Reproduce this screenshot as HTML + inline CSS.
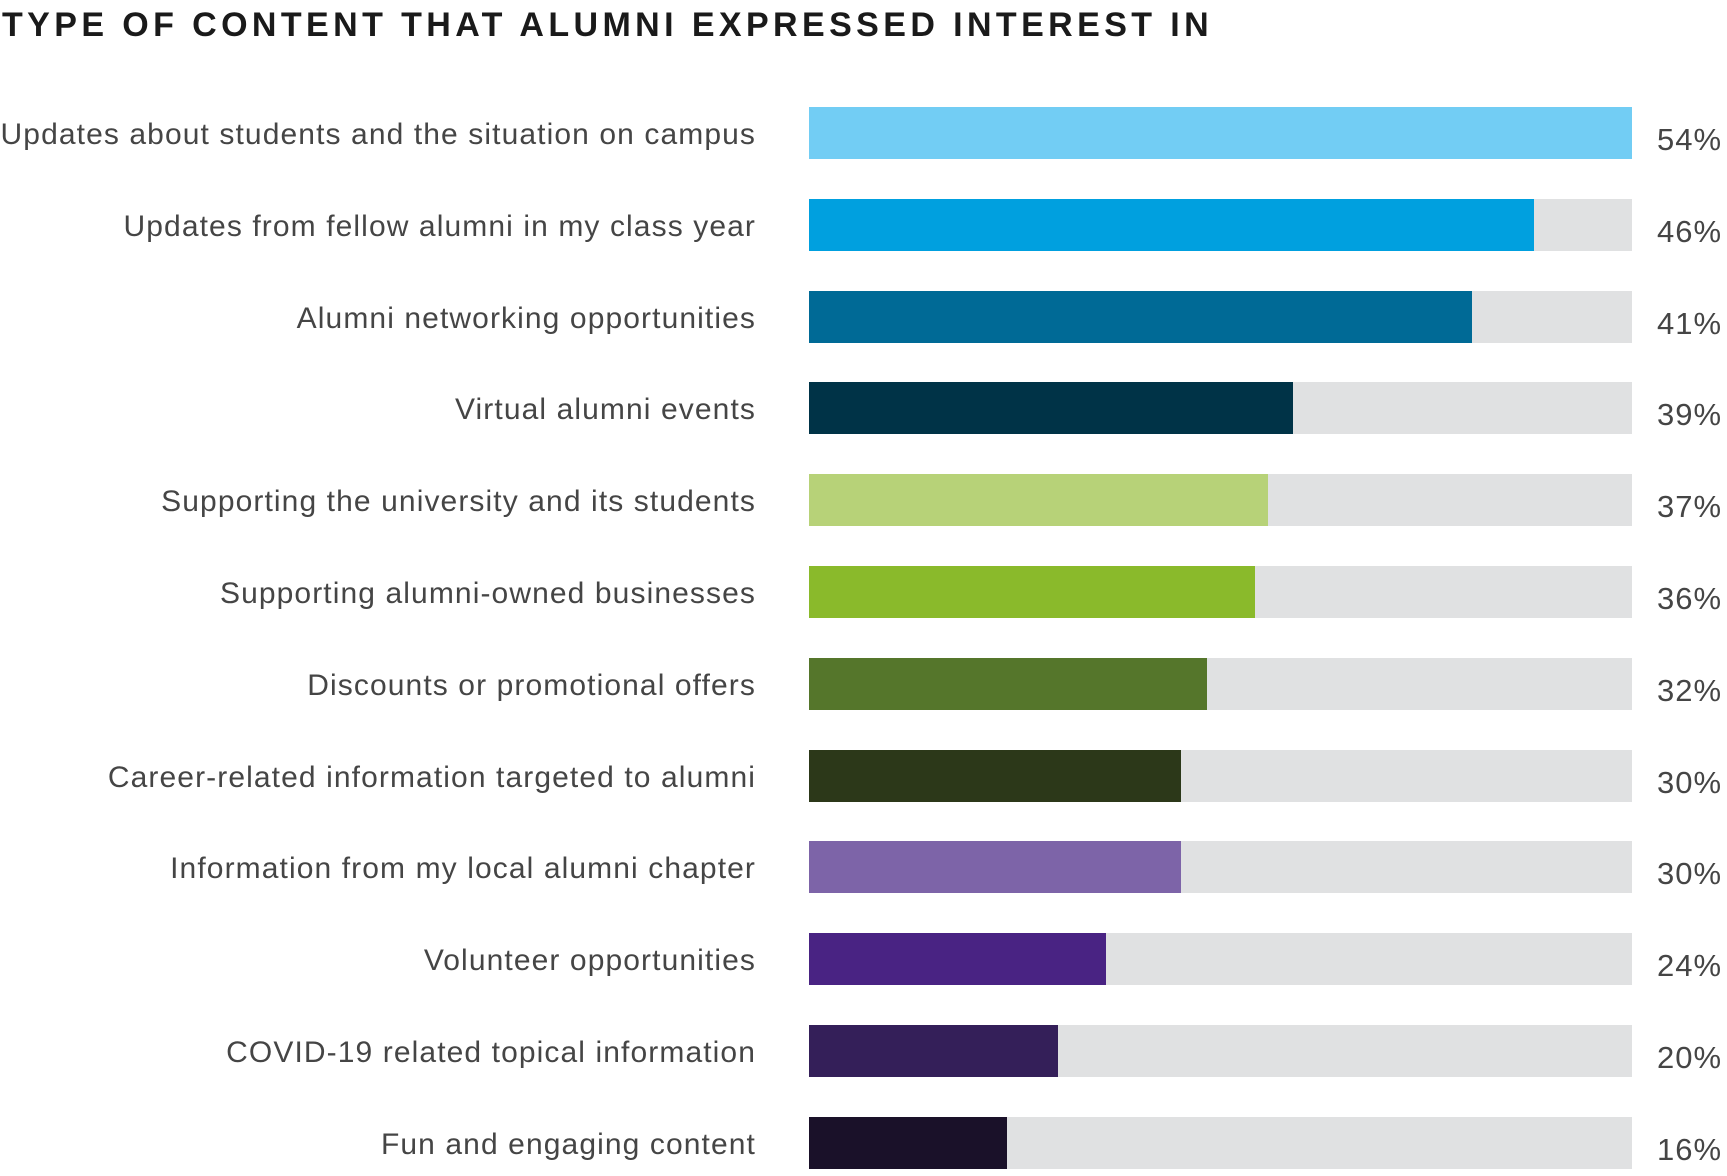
<!DOCTYPE html>
<html><head><meta charset="utf-8"><style>
body{margin:0;width:1727px;height:1174px;background:#fff;position:relative;overflow:hidden;font-family:"Liberation Sans",sans-serif}
.t{position:absolute;left:2px;top:6px;font-size:34px;font-weight:bold;letter-spacing:4.4px;color:#1a1a1a;white-space:nowrap}
.l{position:absolute;right:971px;font-size:30px;letter-spacing:1.1px;color:#454545;white-space:nowrap;line-height:52px}
.tr{position:absolute;left:809px;width:823px;height:52px;background:#e0e1e2}
.f{position:absolute;left:0;top:0;height:52px}
.p{position:absolute;left:1657px;font-size:31px;letter-spacing:1px;color:#454545;line-height:52px;margin-top:7px}
</style></head><body>
<div class="t">TYPE OF CONTENT THAT ALUMNI EXPRESSED INTEREST IN</div>
<div id="c"></div>
<script>
var d=[["Updates about students and the situation on campus",823,"#72cdf4","54%"],
["Updates from fellow alumni in my class year",725,"#00a0df","46%"],
["Alumni networking opportunities",663,"#006a96","41%"],
["Virtual alumni events",484,"#003347","39%"],
["Supporting the university and its students",459,"#b7d278","37%"],
["Supporting alumni-owned businesses",446,"#8aba2b","36%"],
["Discounts or promotional offers",398,"#55762b","32%"],
["Career-related information targeted to alumni",372,"#2c3819","30%"],
["Information from my local alumni chapter",372,"#7d64a8","30%"],
["Volunteer opportunities",297,"#492383","24%"],
["COVID-19 related topical information",249,"#341f59","20%"],
["Fun and engaging content",198,"#1a1129","16%"]];
var h="";
d.forEach(function(r,i){var y=107+i*91.8;
h+='<div class="l" style="top:'+(y+2)+'px">'+r[0]+'</div>';
h+='<div class="tr" style="top:'+y+'px"><div class="f" style="width:'+r[1]+'px;background:'+r[2]+'"></div></div>';
h+='<div class="p" style="top:'+y+'px">'+r[3]+'</div>';});
document.getElementById("c").innerHTML=h;
</script>
</body></html>
